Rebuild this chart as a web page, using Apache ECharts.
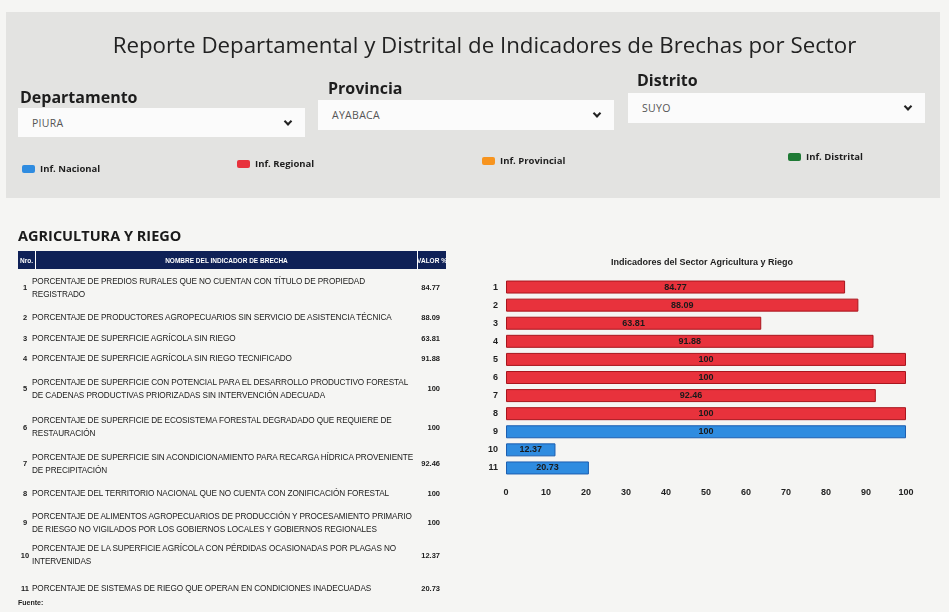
<!DOCTYPE html>
<html>
<head>
<meta charset="utf-8">
<script src="https://cdn.jsdelivr.net/npm/echarts@6/dist/echarts.min.js"></script>
<style>
html,body{margin:0;padding:0;width:949px;height:612px;overflow:hidden;background:#f5f5f3;font-family:"Open Sans","DejaVu Sans",sans-serif;color:#1e1e1e;}
#panel{position:absolute;left:6px;top:12px;width:934px;height:186px;background:#e3e3e1;}
#chart{position:absolute;left:0;top:0;width:949px;height:612px;z-index:1;}
.abs{position:absolute;z-index:2;}
#title{left:10px;width:949px;top:30px;line-height:30px;text-align:center;font-size:22.3px;color:#222;}
.lbl{font-weight:700;font-size:16px;line-height:18px;color:#1d1d1d;}
.sel{background:#fbfbfb;font-size:10.5px;color:#555;letter-spacing:0.3px;display:flex;align-items:center;padding-left:14px;box-sizing:border-box;}
.sel::after{content:'';position:absolute;right:14px;top:50%;width:4px;height:4px;border-right:2px solid #222;border-bottom:2px solid #222;transform:translateY(-75%) rotate(45deg);}
#sector{left:18px;top:226px;font-size:14.5px;line-height:20px;font-weight:700;color:#1a1a1a;}
#thead{left:18px;top:251px;width:428px;height:18px;display:flex;background:#0f2157;color:#fff;font-family:"Liberation Sans",Arial,sans-serif;font-size:6.5px;font-weight:700;white-space:nowrap;}
#thead div{display:flex;align-items:center;justify-content:center;box-sizing:border-box;}
#tbody{left:18px;top:270px;width:428px;font-family:"Liberation Sans",Arial,sans-serif;font-size:8.2px;color:#202020;}
.row{display:flex;align-items:center;}
.row .n{width:14px;text-align:center;flex:none;font-weight:700;font-size:7.5px;}
.row .t{width:374px;flex:none;white-space:pre;line-height:13px;letter-spacing:-0.1px;}
.row .v{width:40px;flex:none;text-align:right;padding-right:6px;box-sizing:border-box;font-weight:700;font-size:7.5px;}
#fuente{left:18px;top:599px;font-family:"Liberation Sans",Arial,sans-serif;font-size:7px;font-weight:700;}
</style>
</head>
<body>
<div id="panel"></div>
<div id="chart"></div>
<div id="title" class="abs">Reporte Departamental y Distrital de Indicadores de Brechas por Sector</div>

<div class="abs lbl" style="left:20px;top:88px;">Departamento</div>
<div class="abs lbl" style="left:328px;top:79px;">Provincia</div>
<div class="abs lbl" style="left:637px;top:71px;">Distrito</div>
<div class="abs sel" style="left:18px;top:108px;width:287px;height:29px;">PIURA</div>
<div class="abs sel" style="left:318px;top:100px;width:296px;height:30px;">AYABACA</div>
<div class="abs sel" style="left:628px;top:93px;width:297px;height:30px;">SUYO</div>

<div id="sector" class="abs">AGRICULTURA Y RIEGO</div>
<div id="thead" class="abs">
  <div style="width:18px;border-right:1px solid #fff;">Nro.</div>
  <div style="width:382px;border-right:1px solid #fff;">NOMBRE DEL INDICADOR DE BRECHA</div>
  <div style="width:28px;flex:1;">VALOR %</div>
</div>
<div id="tbody" class="abs"></div>
<div id="fuente" class="abs">Fuente:</div>

<script>
// ---- data ----
const categories = ['1','2','3','4','5','6','7','8','9','10','11'];
const indicatorNames = [
  'PORCENTAJE DE PREDIOS RURALES QUE NO CUENTAN CON TÍTULO DE PROPIEDAD\nREGISTRADO',
  'PORCENTAJE DE PRODUCTORES AGROPECUARIOS SIN SERVICIO DE ASISTENCIA TÉCNICA',
  'PORCENTAJE DE SUPERFICIE AGRÍCOLA SIN RIEGO',
  'PORCENTAJE DE SUPERFICIE AGRÍCOLA SIN RIEGO TECNIFICADO',
  'PORCENTAJE DE SUPERFICIE CON POTENCIAL PARA EL DESARROLLO PRODUCTIVO FORESTAL\nDE CADENAS PRODUCTIVAS PRIORIZADAS SIN INTERVENCIÓN ADECUADA',
  'PORCENTAJE DE SUPERFICIE DE ECOSISTEMA FORESTAL DEGRADADO QUE REQUIERE DE\nRESTAURACIÓN',
  'PORCENTAJE DE SUPERFICIE SIN ACONDICIONAMIENTO PARA RECARGA HÍDRICA PROVENIENTE\nDE PRECIPITACIÓN',
  'PORCENTAJE DEL TERRITORIO NACIONAL QUE NO CUENTA CON ZONIFICACIÓN FORESTAL',
  'PORCENTAJE DE ALIMENTOS AGROPECUARIOS DE PRODUCCIÓN Y PROCESAMIENTO PRIMARIO\nDE RIESGO NO VIGILADOS POR LOS GOBIERNOS LOCALES Y GOBIERNOS REGIONALES',
  'PORCENTAJE DE LA SUPERFICIE AGRÍCOLA CON PÉRDIDAS OCASIONADAS POR PLAGAS NO\nINTERVENIDAS',
  'PORCENTAJE DE SISTEMAS DE RIEGO QUE OPERAN EN CONDICIONES INADECUADAS'
];
const tableValues = ['84.77','88.09','63.81','91.88','100','100','92.46','100','100','12.37','20.73'];
const regionalValues = [84.77, 88.09, 63.81, 91.88, 100, 100, 92.46, 100, '-', '-', '-'];
const nacionalValues = ['-', '-', '-', '-', '-', '-', '-', '-', 100, 12.37, 20.73];
const provincialValues = [];
const distritalValues = [];
const xTicks = [0, 10, 20, 30, 40, 50, 60, 70, 80, 90, 100];
const legendNames = ['Inf. Nacional', 'Inf. Regional', 'Inf. Provincial', 'Inf. Distrital'];
const chartTitle = 'Indicadores del Sector Agricultura y Riego';

// ---- table (layout only) ----
const rowHeights = [35, 24, 18, 23, 37, 40, 33, 27, 31, 34, 32];
const tbody = document.getElementById('tbody');
categories.forEach((c, i) => {
  const r = document.createElement('div');
  r.className = 'row';
  r.style.height = rowHeights[i] + 'px';
  r.innerHTML = '<div class="n"></div><div class="t"></div><div class="v"></div>';
  r.children[0].textContent = c;
  r.children[1].textContent = indicatorNames[i];
  r.children[2].textContent = tableValues[i];
  tbody.appendChild(r);
});

// ---- chart ----
const chart = echarts.init(document.getElementById('chart'), null, {renderer: 'canvas'});
const legendFont = {fontFamily: '"Open Sans", sans-serif', fontSize: 9.5, fontWeight: 'bold', color: '#1e1e1e'};
const legendPos = [[22, 164], [237, 159], [482, 156], [788, 152]];
const barLabel = {show: true, position: 'inside', color: '#1a1a1a', fontSize: 9, fontWeight: 'bold', fontFamily: '"Liberation Sans", Arial, sans-serif'};
function mkSeries(name, data, fill, border) {
  return {
    name: name, type: 'bar', data: data, barWidth: 13, barGap: '-100%',
    itemStyle: {color: fill, borderColor: border, borderWidth: 1},
    label: barLabel
  };
}
chart.setOption({
  animation: false,
  backgroundColor: 'transparent',
  title: {
    text: chartTitle, left: 697, top: 253, textAlign: 'center',
    textStyle: {fontSize: 9, fontWeight: 'bold', color: '#1e1e1e', fontFamily: '"Liberation Sans", Arial, sans-serif'}
  },
  legend: legendNames.map((n, i) => ({
    data: [n], left: legendPos[i][0], top: legendPos[i][1], padding: 0,
    icon: 'roundRect', itemWidth: 13, itemHeight: 8, itemGap: 4,
    itemStyle: {borderWidth: 0},
    textStyle: legendFont, selectedMode: false
  })),
  grid: {left: 506, right: 43, top: 278, bottom: 135, containLabel: false},
  xAxis: {
    type: 'value', min: xTicks[0], max: xTicks[xTicks.length - 1], interval: xTicks[1] - xTicks[0],
    axisLine: {show: false}, axisTick: {show: false}, splitLine: {show: false},
    axisLabel: {color: '#1e1e1e', fontSize: 9, fontWeight: 'bold', margin: 11, fontFamily: '"Liberation Sans", Arial, sans-serif'}
  },
  yAxis: {
    type: 'category', data: categories, inverse: true,
    axisLine: {show: false}, axisTick: {show: false},
    axisLabel: {color: '#1e1e1e', fontSize: 9, fontWeight: 'bold', margin: 8, fontFamily: '"Liberation Sans", Arial, sans-serif'}
  },
  series: [
    mkSeries(legendNames[0], nacionalValues, '#2f8ce0', '#1d5fb0'),
    mkSeries(legendNames[1], regionalValues, '#e8323c', '#a9151d'),
    mkSeries(legendNames[2], provincialValues, '#f7941e', '#c86f0c'),
    mkSeries(legendNames[3], distritalValues, '#1f7a35', '#145224')
  ]
});
</script>
</body>
</html>
